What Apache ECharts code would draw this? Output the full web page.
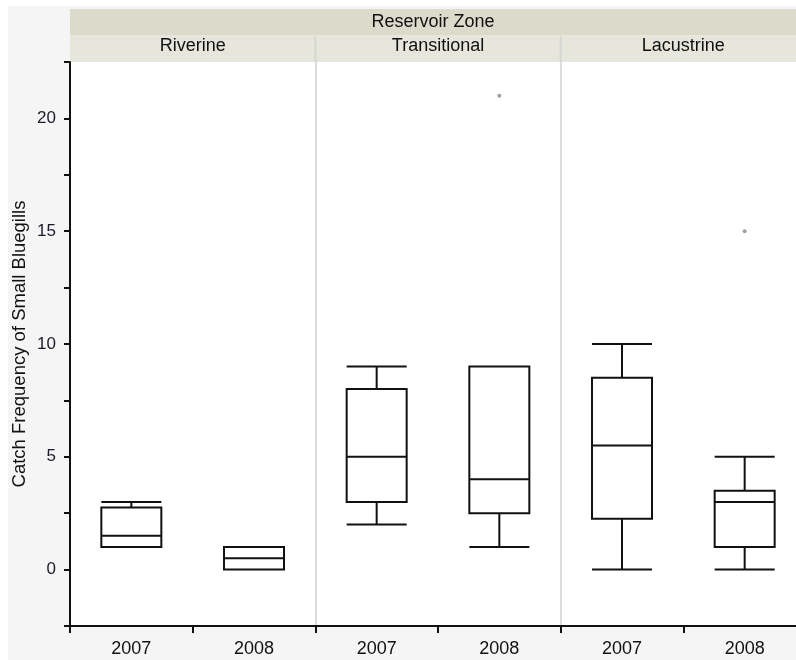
<!DOCTYPE html>
<html>
<head>
<meta charset="utf-8">
<script src="https://cdn.jsdelivr.net/npm/echarts@6/dist/echarts.min.js"></script>
<style>
html,body{margin:0;padding:0;background:#ffffff;}
#c{width:796px;height:660px;}
</style>
</head>
<body>
<div id="c"></div>
<script>
// ---- data ----
const zones = ['Riverine', 'Transitional', 'Lacustrine'];
const years = ['2007', '2008', '2007', '2008', '2007', '2008'];
// [min, Q1, median, Q3, max]
const riverine2007 = [1, 1, 1.5, 2.75, 3];
const riverine2008 = [0, 0, 0.5, 1, 1];
const transitional2007 = [2, 3, 5, 8, 9];
const transitional2008 = [1, 2.5, 4, 9, 9];
const lacustrine2007 = [0, 2.25, 5.5, 8.5, 10];
const lacustrine2008 = [0, 1, 3, 3.5, 5];
// outliers: [category index, value]
const outliers = [[3, 21], [5, 15]];
const yTicksShown = [0, 5, 10, 15, 20];

// ---- layout ----
const gridLeft = 70, gridTop = 62, gridWidth = 736, gridHeight = 564;
const FONT = 'Liberation Sans, Arial, sans-serif';

const chart = echarts.init(document.getElementById('c'), null, {renderer: 'canvas'});

const panelW = gridWidth / zones.length;
const graphics = [
  {type: 'rect', z: -10, shape: {x: 8, y: 6, width: 800, height: 660}, style: {fill: '#f5f5f5'}},
  {type: 'rect', z: -9, shape: {x: gridLeft, y: gridTop, width: gridWidth, height: gridHeight}, style: {fill: '#ffffff'}},
  {type: 'rect', z: -9, shape: {x: gridLeft, y: 9, width: 760, height: 26}, style: {fill: '#dcdacb'}},
  {type: 'rect', z: -9, shape: {x: gridLeft, y: 35, width: 760, height: 27}, style: {fill: '#e7e6dd'}},
  {type: 'text', z: 5, x: gridLeft + 363, y: 22,
   style: {text: 'Reservoir Zone', fill: '#111', font: '18px ' + FONT, align: 'center', verticalAlign: 'middle'}}
];
for (let i = 1; i < zones.length; i++) {
  const x = gridLeft + panelW * i;
  graphics.push({type: 'line', z: -8, shape: {x1: x, y1: 36, x2: x, y2: 62}, style: {stroke: '#d6d6d2', lineWidth: 2}});
}

const option = {
  animation: false,
  backgroundColor: 'transparent',
  graphic: graphics,
  grid: {left: gridLeft, top: gridTop, width: gridWidth, height: gridHeight, containLabel: false, outerBoundsMode: 'none'},
  xAxis: [
    {
      type: 'category', data: years, boundaryGap: true, position: 'bottom',
      axisLine: {show: true, onZero: false, lineStyle: {color: '#111', width: 2}},
      axisTick: {show: true, length: 7, alignWithLabel: false, lineStyle: {color: '#111', width: 2}},
      axisLabel: {color: '#111', fontSize: 18, fontFamily: FONT, margin: 14},
      splitLine: {show: false}
    },
    {
      type: 'category', data: zones, boundaryGap: true, position: 'top',
      axisLine: {show: false, onZero: false}, axisTick: {show: false},
      axisLabel: {color: '#111', fontSize: 18, fontFamily: FONT, margin: 7},
      splitLine: {show: true, lineStyle: {color: '#dcdcdc', width: 2}}
    }
  ],
  yAxis: {
    type: 'value', min: -2.5, max: 22.5, interval: 2.5,
    name: 'Catch Frequency of Small Bluegills', nameLocation: 'middle', nameRotate: 90, nameGap: 41,
    nameMoveOverlap: false,
    nameTextStyle: {color: '#111', fontSize: 18.5, fontFamily: FONT},
    axisLine: {show: true, onZero: false, lineStyle: {color: '#111', width: 2}},
    axisTick: {show: true, length: 6, lineStyle: {color: '#111', width: 2}},
    axisLabel: {
      color: '#1a1a2a', fontSize: 17, fontFamily: FONT, margin: 14,
      formatter: v => (yTicksShown.indexOf(v) >= 0 ? String(v) : '')
    },
    splitLine: {show: false}
  },
  series: [
    {
      type: 'boxplot',
      xAxisIndex: 0,
      data: [riverine2007, riverine2008, transitional2007, transitional2008, lacustrine2007, lacustrine2008],
      boxWidth: [60, 60],
      itemStyle: {color: '#ffffff', borderColor: '#111', borderWidth: 2},
      emphasis: {disabled: true}
    },
    {
      type: 'scatter',
      xAxisIndex: 0,
      data: outliers,
      symbol: 'circle', symbolSize: 4,
      itemStyle: {color: '#8a8a8a'},
      emphasis: {disabled: true}
    }
  ]
};
chart.setOption(option);
</script>
</body>
</html>
